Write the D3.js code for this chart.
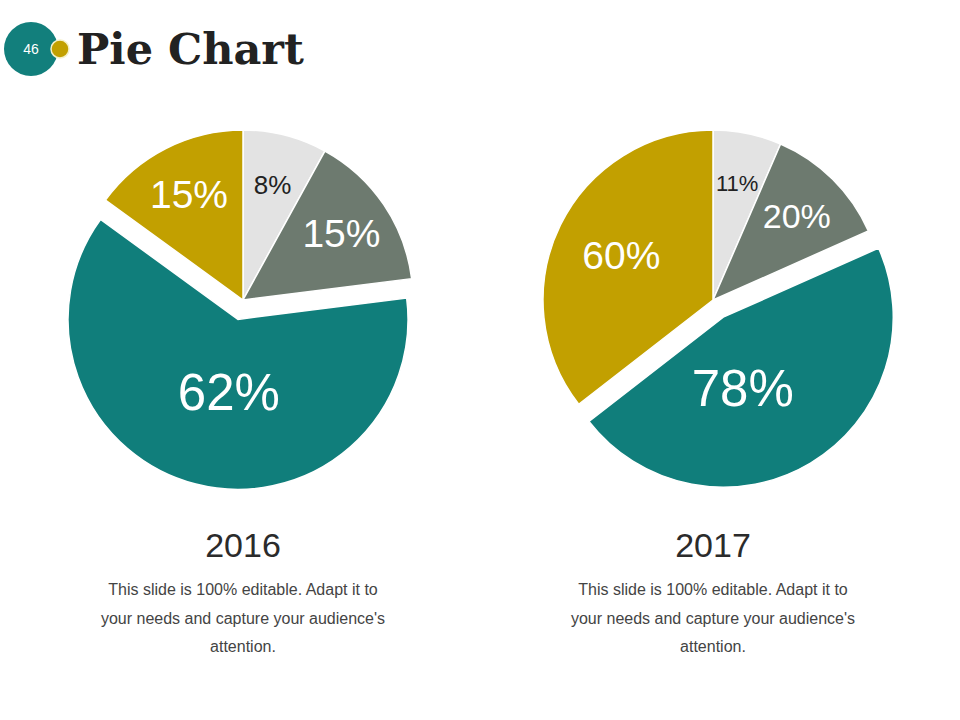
<!DOCTYPE html>
<html lang="en">
<head>
    <meta charset="UTF-8">
    <title>Pie Chart</title>
    <script src="https://d3js.org/d3.v7.min.js"></script>
    <style>
        body { margin: 0; background: #fff; }
        text { font-family: "Liberation Sans", Arial, sans-serif; }
    </style>
</head>
<body>
    <svg width="960" height="720"></svg>

    <script>
        // slide data
        const years = ["2016", "2017"];
        const values2016 = [8, 15, 62, 15];
        const values2017 = [11, 20, 78, 60];
        const sliceColors = ["#e3e3e3", "#6d7a6f", "#107e7b", "#c2a000"];
        const labelColors = ["#222", "#fff", "#fff", "#fff"];
        const explodedSlice = 2;
        const caption = [
            "This slide is 100% editable. Adapt it to",
            "your needs and capture your audience's",
            "attention."
        ];

        const svg = d3.select("svg");

        // header badge
        svg.append("circle").attr("cx", 31).attr("cy", 49).attr("r", 27).attr("fill", "#127f7c");
        svg.append("text").attr("x", 31).attr("y", 54).attr("text-anchor", "middle")
            .attr("fill", "#fff").style("font-size", "14px").text("46");
        svg.append("circle").attr("cx", 60).attr("cy", 49).attr("r", 9)
            .attr("fill", "#c2a000").attr("stroke", "#f4f0c8").attr("stroke-width", 1.5);
        svg.append("text").attr("x", 77).attr("y", 64)
            .style("font-family", "'DejaVu Serif', Georgia, serif")
            .style("font-weight", "bold").style("font-size", "43px")
            .attr("fill", "#222").text("Pie Chart");

        const radius = 170;
        const pie = d3.pie().sort(null).value(d => d);
        const arc = d3.arc().innerRadius(0).outerRadius(radius);
        const xPos = d3.scalePoint().domain(years).range([243, 713]);

        [values2016, values2017].forEach((vals, i) => {
            const cx = xPos(years[i]), cy = 300;
            const total = d3.sum(vals);
            const g = svg.append("g").attr("transform", `translate(${cx},${cy})`);

            const slices = g.selectAll("g.slice")
                .data(pie(vals))
                .enter().append("g")
                .attr("class", "slice")
                .attr("transform", (d, j) => {
                    if (j !== explodedSlice) return null;
                    const a = (d.startAngle + d.endAngle) / 2;
                    return `translate(${Math.sin(a) * 20},${-Math.cos(a) * 20})`;
                });

            slices.append("path")
                .attr("d", arc)
                .attr("fill", (d, j) => sliceColors[j])
                .attr("stroke", "#fff")
                .attr("stroke-width", 1.5);

            slices.append("text")
                .attr("transform", d => {
                    const share = d.value / total;
                    const lr = radius * (share < 0.2 ? 0.7 : share < 0.4 ? 0.6 : 0.43);
                    let a = (d.startAngle + d.endAngle) / 2;
                    if (share >= 0.4) a = (a + Math.PI) / 2; // big labels sit lower
                    return `translate(${Math.sin(a) * lr},${-Math.cos(a) * lr})`;
                })
                .attr("text-anchor", "middle")
                .attr("dy", "0.36em")
                .attr("fill", (d, j) => labelColors[j])
                .style("font-size", d => {
                    const share = d.value / total;
                    return (share < 0.08 ? 22 : share < 0.1 ? 26 : share < 0.14 ? 34 : share < 0.4 ? 39 : 51) + "px";
                })
                .text(d => d.value + "%");

            svg.append("text")
                .attr("x", cx).attr("y", 557)
                .attr("text-anchor", "middle")
                .attr("fill", "#2b2b2b")
                .style("font-size", "34px")
                .text(years[i]);

            svg.selectAll(null)
                .data(caption)
                .enter().append("text")
                .attr("x", cx)
                .attr("y", (d, k) => 595 + k * 28.5)
                .attr("text-anchor", "middle")
                .attr("fill", "#444")
                .style("font-size", "16px")
                .text(d => d);
        });
    </script>
</body>
</html>
